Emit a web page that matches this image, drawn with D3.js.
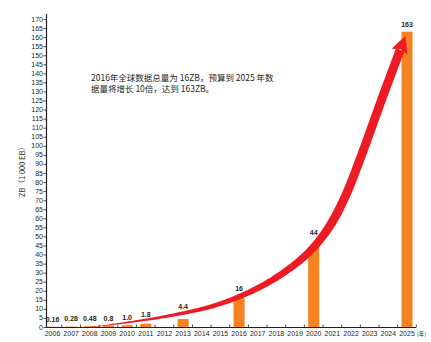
<!DOCTYPE html>
<html><head><meta charset="utf-8">
<script src="https://cdn.jsdelivr.net/npm/d3@7"></script>
<style>
html,body{margin:0;padding:0;background:#fff;}
svg{display:block;}
</style></head>
<body>
<svg id="chart" width="431" height="342"></svg>
<script>
// ---- data ----
const yearLabels = ["2006","2007","2008","2009","2010","2011","2012","2013","2014","2015","2016","2017","2018","2019","2020","2021","2022","2023","2024","2025"];
const barYears  = ["2006","2007","2008","2009","2010","2011","2013","2016","2020","2025"];
const barValues = [0.16, 0.28, 0.48, 0.8, 1.0, 1.8, 4.4, 16, 44, 163];
const barLabels = ["0.16","0.28","0.48","0.8","1.0","1.8","4.4","16","44","163"];
const yTickValues = [0,5,10,15,20,25,30,35,40,45,50,55,60,65,70,75,80,85,90,95,100,105,110,115,120,125,130,135,140,145,150,155,160,165,170];
// trend arrow centreline (year, ZB)
const arrowYears  = [2008.11, 2010.15, 2012.29, 2014.43, 2016.09, 2017.64, 2018.98, 2019.94, 2020.85, 2021.66, 2022.46, 2023.80, 2024.92];
const arrowValues = [0, 2.7, 6.24, 11.09, 17.08, 25.06, 34.44, 43.38, 55.58, 71.31, 92.01, 129.98, 160.7];
const noteLines = ["2016年全球数据总量为 16ZB，预算到 2025 年数", "据量将增长 10倍，达到 163ZB。"];
const yTitle = "ZB（1 000 EB）";
const xUnit = "(年)";

// ---- layout ----
const svg = d3.select("#chart");
const axisX = 46, axisY = 327;
const x = d3.scalePoint().domain(yearLabels).range([52.5, 407]);
const xNum = d3.scaleLinear().domain([2006, 2025]).range([52.5, 407]);
const y = d3.scaleLinear().domain([0, 170]).range([axisY, 19]);
const barW = 11;
const narrow = "'Liberation Sans Narrow','Arial Narrow','Liberation Sans',sans-serif";
const ink = "#231f20";

// bars
svg.append("g").selectAll("rect").data(barYears).join("rect")
  .attr("x", d => x(d) - barW/2)
  .attr("width", barW)
  .attr("y", (d,i) => y(barValues[i]))
  .attr("height", (d,i) => axisY - y(barValues[i]))
  .attr("fill", "#f58220");

// trend arrow (tapered shape)
const pts = arrowYears.map((yr,i) => [xNum(yr), y(arrowValues[i])]);
const guide = svg.append("path")
  .attr("d", d3.line().curve(d3.curveCatmullRom.alpha(0.5))(pts))
  .attr("fill", "none").attr("stroke", "none");
const node = guide.node();
const L = node.getTotalLength();
const headLen = 17, headHalf = 8.5;
const shaftEnd = L - headLen + 2;
const widthAt = s => {
  const t = s / shaftEnd;
  return 0.3 + 8.6 * Math.min(1, Math.pow(t / 0.6, 0.9));
};
const left = [], right = [];
const N = 240;
for (let k = 0; k <= N; k++) {
  const s = shaftEnd * k / N;
  const p = node.getPointAtLength(s);
  const q = node.getPointAtLength(Math.min(L, s + 0.5));
  const p0 = node.getPointAtLength(Math.max(0, s - 0.5));
  let dx = q.x - p0.x, dy = q.y - p0.y;
  const len = Math.hypot(dx, dy) || 1;
  dx /= len; dy /= len;
  const w = widthAt(s) / 2;
  left.push([p.x - dy * w, p.y + dx * w]);
  right.push([p.x + dy * w, p.y - dx * w]);
}
const outline = left.concat(right.slice().reverse());
svg.append("path")
  .attr("d", d3.line()(outline) + "Z")
  .attr("fill", "#ed1c24");
// arrow head
const tip = node.getPointAtLength(L);
const base = node.getPointAtLength(L - headLen);
let hx = tip.x - base.x, hy = tip.y - base.y;
const hl = Math.hypot(hx, hy); hx /= hl; hy /= hl;
svg.append("path")
  .attr("d", d3.line()([
    [tip.x, tip.y],
    [base.x - hy * headHalf, base.y + hx * headHalf],
    [base.x + hx * 3, base.y + hy * 3],
    [base.x + hy * headHalf, base.y - hx * headHalf]
  ]) + "Z")
  .attr("fill", "#ed1c24");

// bar labels (kept just above the arrow where it passes)
function labelY(cx, v) {
  let b = y(v) - 5;
  const near = outline.filter(p => Math.abs(p[0] - cx) < 4.5);
  if (near.length && cx < 400) {
    const top = d3.min(near, p => p[1]);
    if (b > top - 1) b = top - 1;
  }
  return b;
}
svg.append("g").selectAll("text").data(barYears).join("text")
  .attr("x", d => x(d))
  .attr("y", (d,i) => labelY(x(d), barValues[i]))
  .attr("text-anchor", "middle")
  .attr("font-family", narrow)
  .attr("font-size", "7px")
  .attr("font-weight", "bold")
  .attr("fill", ink)
  .text((d,i) => barLabels[i]);

// x axis
svg.append("line").attr("x1", axisX).attr("x2", 416).attr("y1", axisY + 0.5).attr("y2", axisY + 0.5)
  .attr("stroke", ink).attr("stroke-width", 1);
const step = x.step();
const xTicks = yearLabels.map(d => x(d) + step/2);
svg.append("g").selectAll("line").data(xTicks).join("line")
  .attr("x1", d => d).attr("x2", d => d)
  .attr("y1", axisY - 2.5).attr("y2", axisY + 0.5)
  .attr("stroke", ink).attr("stroke-width", 0.8);
svg.append("g").selectAll("text").data(yearLabels).join("text")
  .attr("x", d => x(d)).attr("y", 336)
  .attr("text-anchor", "middle")
  .attr("font-family", narrow).attr("font-size", "7px").attr("fill", ink)
  .text(d => d);
svg.append("text").attr("x", 417).attr("y", 335.5)
  .attr("font-family", "'Noto Sans CJK SC',sans-serif").attr("font-size", "5.5px").attr("fill", ink)
  .text(xUnit);

// y axis
svg.append("line").attr("x1", axisX + 0.5).attr("x2", axisX + 0.5).attr("y1", 14).attr("y2", axisY + 1)
  .attr("stroke", ink).attr("stroke-width", 1.2);
svg.append("g").selectAll("line").data(yTickValues).join("line")
  .attr("x1", axisX - 2.5).attr("x2", axisX)
  .attr("y1", d => y(d) + 0.5).attr("y2", d => y(d) + 0.5)
  .attr("stroke", ink).attr("stroke-width", 0.8);
svg.append("g").selectAll("text").data(yTickValues).join("text")
  .attr("x", axisX - 3).attr("y", d => y(d) + 2.5)
  .attr("text-anchor", "end")
  .attr("font-family", narrow).attr("font-size", "7px").attr("fill", ink)
  .text(d => d);
svg.append("text")
  .attr("transform", "translate(25,170) rotate(-90)")
  .attr("text-anchor", "middle")
  .attr("font-family", "'Noto Sans CJK SC',sans-serif").attr("font-size", "7.5px").attr("fill", ink)
  .text(yTitle);

// annotation
svg.append("g").selectAll("text").data(noteLines).join("text")
  .attr("x", 91).attr("y", (d,i) => 81 + i * 10.5)
  .attr("font-family", "'Noto Sans CJK SC',sans-serif").attr("font-size", "8.5px").attr("fill", ink)
  .text(d => d);
</script>
</body></html>
